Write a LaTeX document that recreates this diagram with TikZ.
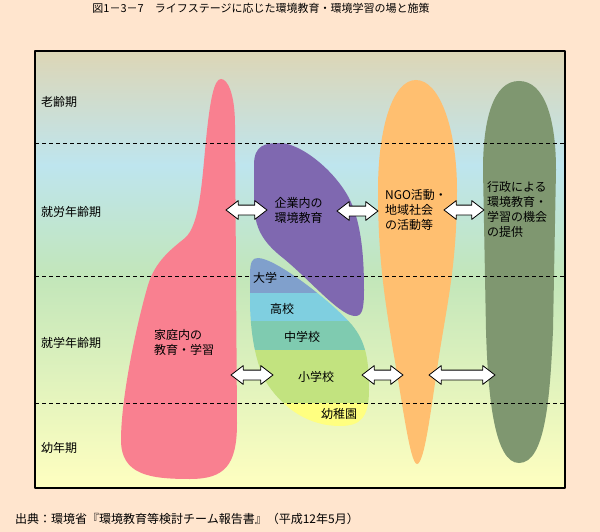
\documentclass[tikz,border=0pt]{standalone}
\usepackage{fontspec}
\setmainfont{Noto Sans CJK JP}
\usetikzlibrary{shapes.arrows}
\definecolor{bgpeach}{HTML}{FFE5CE}
\definecolor{bgtop}{HTML}{DDD6B6}
\definecolor{bgblue}{HTML}{BEE5EE}
\definecolor{bggreen}{HTML}{C2E6BA}
\definecolor{bgyellow}{HTML}{FFFFC0}
\definecolor{katei}{HTML}{F98090}
\definecolor{kigyo}{HTML}{7F68B0}
\definecolor{daigaku}{HTML}{80A0CC}
\definecolor{koko}{HTML}{7FCFE0}
\definecolor{chugaku}{HTML}{7FCBB0}
\definecolor{shogaku}{HTML}{C2E37F}
\definecolor{yochien}{HTML}{FFFF80}
\definecolor{ngo}{HTML}{FFBF70}
\definecolor{gyosei}{HTML}{7F9770}
\begin{document}
\begin{tikzpicture}[x=1pt,y=-1pt, font=\fontsize{12}{15}\selectfont, line join=round,
	twoway/.style={double arrow, draw=black, fill=white, line width=0.8pt, inner xsep=0pt, inner ysep=4.5pt,
		double arrow head extend=4.5pt, double arrow tip angle=75, double arrow head indent=0pt},
	stage/.style={anchor=west, inner sep=0pt},
	lbl/.style={align=left, inner sep=0pt}]
	\useasboundingbox (0,0) rectangle (600,532);
	\fill[bgpeach] (0,0) rectangle (600,532);
	% life stage background
	\shade[top color=bgtop, bottom color=bgblue] (35,51) rectangle (565,165.5);
	\shade[top color=bgblue, bottom color=bggreen] (35,165) rectangle (565,275.5);
	\shade[top color=bggreen, bottom color=bgyellow] (35,275) rectangle (565,488);
	% places of learning
	\fill[katei] (221,79) .. controls (214,79) and (210,100) .. (206,140) .. controls (202,180) and (200,225) .. (185,238)
		.. controls (170,250) and (155,262) .. (148,285) .. controls (135,330) and (121,400) .. (121,440)
		.. controls (121,475) and (150,479) .. (190,479) .. controls (225,479) and (237,465) .. (237,423)
		-- (235,125) .. controls (235,95) and (228,79) .. (221,79) -- cycle;
	\fill[kigyo] (254,165) .. controls (254,145) and (265,143) .. (280,143) .. controls (300,143) and (335,170) .. (350,200)
		.. controls (362,225) and (364,260) .. (364,290) .. controls (364,310) and (362,316) .. (355,316)
		.. controls (340,316) and (310,280) .. (283,258) .. controls (260,240) and (254,225) .. (254,200) -- cycle;
	\begin{scope}
		\clip (250,275) .. controls (250,262) and (252,258) .. (258,258) .. controls (275,258) and (330,300) .. (352,325)
			.. controls (366,342) and (369,360) .. (369,390) .. controls (369,418) and (360,426) .. (340,426)
			.. controls (310,426) and (285,410) .. (268,385) .. controls (255,365) and (250,330) .. (250,300) -- cycle;
		\foreach \c/\a/\b in {daigaku/250/293, koko/293/321, chugaku/321/350, shogaku/350/403, yochien/403/430}
			\fill[\c] (240,\a) rectangle (380,\b);
	\end{scope}
	\fill[ngo] (416,80) .. controls (440,80) and (457,130) .. (457,190) .. controls (457,260) and (448,300) .. (440,350)
		.. controls (432,400) and (425,464) .. (417,464) .. controls (410,464) and (402,400) .. (393,350)
		.. controls (385,300) and (378,260) .. (378,190) .. controls (378,130) and (392,80) .. (416,80) -- cycle;
	\fill[gyosei] (519,81) .. controls (545,81) and (556,120) .. (556,170) -- (553,330)
		.. controls (550,400) and (545,463) .. (519,463) .. controls (495,463) and (488,400) .. (486,330)
		-- (483,170) .. controls (483,120) and (493,81) .. (519,81) -- cycle;
	% stage borders
	\foreach \y in {143,276,403} \draw[dash pattern=on 4pt off 3pt, line width=0.9pt] (35,\y) -- (565,\y);
	\draw[line width=1.2pt] (35,51) rectangle (565,488);
	% links
	\foreach \n/\x/\y/\l in {a1/246.5/210/41, a2/357.5/211/41, a3/464/210/40, a4/252/375/42, a5/382.5/375/41, a6/462/375/66}
		\node[twoway, minimum height=\l] (\n) at (\x,\y) {};
	% texts
	\node[stage] (old) at (41,102) {老齢期};
	\node[stage] (work) at (41,212) {就労年齢期};
	\node[stage] (study) at (41,343) {就学年齢期};
	\node[stage] (child) at (41,448) {幼年期};
	\node[lbl] (home) at (184,342) {家庭内の\\教育・学習};
	\node[lbl] (firm) at (298.5,210) {企業内の\\環境教育};
	\node[lbl, fill=daigaku, inner sep=1pt] (univ) at (265,278) {大学};
	\node[lbl] (high) at (282,309) {高校};
	\node[lbl] (junior) at (302,337) {中学校};
	\node[lbl] (elem) at (316,377) {小学校};
	\node[lbl] (kinder) at (339,414) {幼稚園};
	\node[lbl] (local) at (416,209.5) {NGO活動・\\地域社会\\の活動等};
	\node[lbl] (gov) at (517,209.5) {行政による\\環境教育・\\学習の機会\\の提供};
	\node[font=\fontsize{11}{13}\selectfont] (title) at (261,8) {図1－3－7　ライフステージに応じた環境教育・環境学習の場と施策};
	\node[stage] (source) at (15,519) {出典：環境省『環境教育等検討チーム報告書』（平成12年5月）};
\end{tikzpicture}
\end{document}
